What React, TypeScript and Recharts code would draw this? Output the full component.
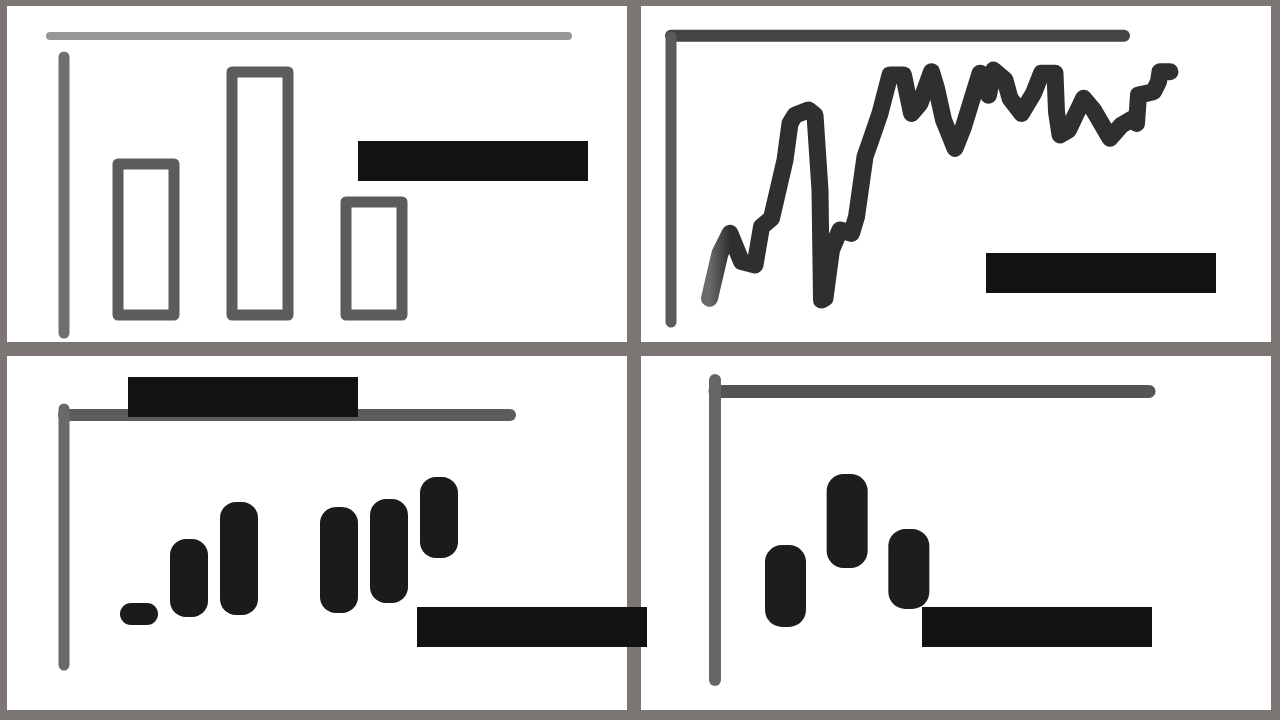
import React from "react";
import { BarChart, Bar, LineChart, Line, XAxis, YAxis, ReferenceLine } from "recharts";

// top-left: outlined bars
const outlineCats = ["A", "B", "C"];
const outlineValues = [75.5, 121.5, 56.5];

// top-right: wiggly line
const trendX = [
  7.7, 9.8, 11.8, 14.1, 16.8, 18.1, 20.1, 22.8, 23.8, 24.8, 27.5, 28.8, 29.8, 30.1, 30.8, 32.1, 33.8, 36.1,
  37.1, 38.8, 40.1, 41.8, 43.8, 46.5, 48.1, 49.8, 52.1, 53.1, 54.5, 56.8, 58.5, 61.8, 63.5, 64.5, 66.8, 67.8,
  70.1, 72.5, 74.1, 76.8, 77.1, 77.8, 79.5, 82.5, 84.5, 87.8, 90.1, 92.5, 93.1, 93.5, 96.5, 97.5, 97.8, 99.8,
];
const trendY = [
  8.3, 24.1, 31.1, 21.2, 20.0, 33.4, 36.4, 56.8, 69.7, 72.6, 74.4, 72.6, 46.3, 7.7, 8.4, 25.3, 32.3, 31.1,
  36.9, 58.0, 64.5, 73.2, 86.7, 86.7, 73.2, 76.7, 87.8, 82.0, 70.9, 60.9, 68.5, 87.3, 79.6, 88.4, 84.9, 78.5,
  73.2, 80.2, 87.3, 87.3, 73.8, 65.6, 67.4, 78.5, 74.4, 64.5, 69.1, 71.5, 69.7, 79.6, 80.8, 84.3, 87.8, 87.8,
];

// bottom-left: floating filled bars
const blockCats = ["c1", "c2", "c3", "c4", "c5", "c6", "c7", "c8", "c9"];
const blockLow = [null, 16, 19.2, 20, null, 20.8, 24.8, 42.8, null];
const blockHigh = [null, 24.8, 50.4, 65.2, null, 63.2, 66.4, 75.2, null];

// bottom-right: floating pills
const pillCats = ["p1", "p2", "p3"];
const pillLow = [17.7, 37.3, 23.7];
const pillHigh = [45, 68.7, 50.3];

const outlineData = outlineCats.map((c, i) => ({ c, v: outlineValues[i] }));
const trendData = trendX.map((x, i) => ({ x, y: trendY[i] }));
const blockData = blockCats.map((c, i) => ({
  c,
  r: blockLow[i] == null ? null : [blockLow[i], blockHigh[i]],
}));
const pillData = pillCats.map((c, i) => ({ c, r: [pillLow[i], pillHigh[i]] }));

// hand-drawn frame stroke: a reference line nudged past / short of the plot edges
const frameLine = (stroke: string, width: number, padLeft: number, padRight: number) => (p: any) => (
  <line
    x1={p.x1 - padLeft}
    y1={p.y1}
    x2={p.x2 + padRight}
    y2={p.y2}
    stroke={stroke}
    strokeWidth={width}
    strokeLinecap="round"
  />
);

const axisStroke = (stroke: string, width: number) => ({ stroke, strokeWidth: width, strokeLinecap: "round" as const });

const panel = (left: number, top: number, width: number, height: number): React.CSSProperties => ({
  position: "absolute",
  left,
  top,
  width,
  height,
  background: "#ffffff",
  overflow: "hidden",
});

const mask = (left: number, top: number): React.CSSProperties => ({
  position: "absolute",
  left,
  top,
  width: 230,
  height: 40,
  background: "#121212",
  zIndex: 2,
});

export default function App() {
  return (
    <div style={{ position: "absolute", left: 0, top: 0, width: 1280, height: 720, background: "#7b7573" }}>
      <div style={panel(7, 6, 620, 336)}>
        <BarChart width={620} height={336} data={outlineData} margin={{ top: 51, right: 57, bottom: 9, left: 56 }}>
          <XAxis dataKey="c" hide padding={{ left: 25, right: 139 }} />
          <YAxis domain={[-9, 129]} width={1} tick={false} tickLine={false} axisLine={axisStroke("#6f6f6f", 11)} />
          <ReferenceLine y={139.5} ifOverflow="visible" shape={frameLine("#979797", 8, 14, -2)} />
          <Bar
            dataKey="v"
            barSize={56}
            fill="#ffffff"
            stroke="#4a4a4a"
            strokeOpacity={0.9}
            strokeWidth={11}
            strokeLinejoin="round"
            isAnimationActive={false}
          />
        </BarChart>
      </div>

      <div style={panel(641, 6, 630, 336)}>
        <LineChart width={630} height={336} data={trendData} margin={{ top: 31, right: 100, bottom: 20, left: 29 }}>
          <defs>
            <linearGradient id="trendStroke" x1="0" y1="0" x2="1" y2="0">
              <stop offset="0" stopColor="#6a6a6a" />
              <stop offset="0.045" stopColor="#2f2f2f" />
              <stop offset="1" stopColor="#2f2f2f" />
            </linearGradient>
          </defs>
          <XAxis dataKey="x" type="number" domain={[0, 100]} hide />
          <YAxis domain={[0, 100]} width={1} tick={false} tickLine={false} axisLine={axisStroke("#5a5a5a", 11)} />
          <ReferenceLine y={100.4} ifOverflow="visible" shape={frameLine("#444444", 12, 0, -47)} />
          <Line
            dataKey="y"
            type="linear"
            stroke="url(#trendStroke)"
            strokeWidth={17}
            strokeLinejoin="round"
            strokeLinecap="round"
            dot={false}
            activeDot={false}
            isAnimationActive={false}
          />
        </LineChart>
      </div>

      <div style={panel(7, 356, 620, 354)}>
        <BarChart width={620} height={354} data={blockData} margin={{ top: 53, right: 113, bottom: 45, left: 56 }}>
          <XAxis dataKey="c" hide />
          <YAxis domain={[0, 102.4]} width={1} tick={false} tickLine={false} axisLine={axisStroke("#696969", 11)} />
          <ReferenceLine y={100} ifOverflow="visible" shape={frameLine("#5c5c5c", 12, 0, -4)} />
          <Bar dataKey="r" barSize={38} fill="#1b1b1b" radius={16} isAnimationActive={false} />
        </BarChart>
      </div>

      <div style={panel(641, 356, 630, 354)}>
        <BarChart width={630} height={354} data={pillData} margin={{ top: 24, right: 121, bottom: 30, left: 73 }}>
          <XAxis dataKey="c" hide padding={{ left: 40, right: 210 }} />
          <YAxis domain={[0, 100]} width={1} tick={false} tickLine={false} axisLine={axisStroke("#666666", 12)} />
          <ReferenceLine y={96.2} ifOverflow="visible" shape={frameLine("#545454", 13, 0, -1)} />
          <Bar dataKey="r" barSize={41} fill="#1d1d1d" radius={17} isAnimationActive={false} />
        </BarChart>
      </div>

      <div style={mask(358, 141)} />
      <div style={mask(986, 253)} />
      <div style={mask(128, 377)} />
      <div style={mask(417, 607)} />
      <div style={mask(922, 607)} />
    </div>
  );
}
